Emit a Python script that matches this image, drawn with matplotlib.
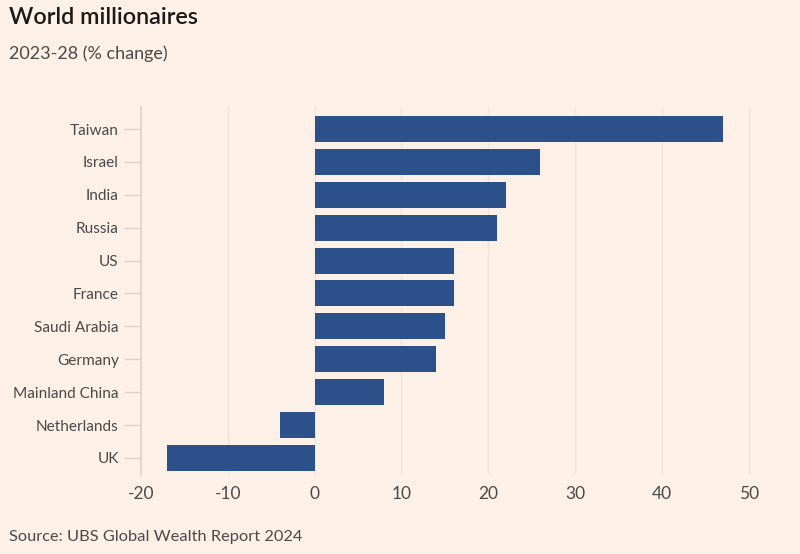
import matplotlib.pyplot as plt

countries = ['Taiwan', 'Israel', 'India', 'Russia', 'US', 'France',
             'Saudi Arabia', 'Germany', 'Mainland China', 'Netherlands', 'UK']
change = [47, 26, 22, 21, 16, 16, 15, 14, 8, -4, -17]
xticks = [-20, -10, 0, 10, 20, 30, 40, 50]

bg = '#fdf0e6'
bar_color = '#2c5089'
grid_color = '#efe3da'
text_color = '#4a4a4a'

plt.rcParams['font.family'] = ['Lato', 'DejaVu Sans']

fig = plt.figure(figsize=(8, 5.54), dpi=100, facecolor=bg)
ax = fig.add_axes([141 / 800, 1 - 475 / 554, (766 - 141) / 800, (475 - 107) / 554])
ax.set_facecolor(bg)

ypos = list(range(len(countries)))
ax.barh(ypos, change, height=0.79, color=bar_color, zorder=3)

ax.set_xlim(-20, 52)
ax.set_ylim(10.52, -0.67)
ax.set_xticks(xticks)
ax.set_xticklabels([str(t) for t in xticks])
ax.set_yticks(ypos)
ax.set_yticklabels(countries)

# Gridlines
for t in xticks[1:]:
    ax.axvline(t, color=grid_color, lw=1, zorder=1)

for s in ['top', 'right', 'bottom']:
    ax.spines[s].set_visible(False)
ax.spines['left'].set_color('#ddd2c9')
ax.spines['left'].set_linewidth(1.2)

ax.tick_params(axis='y', length=12, color='#ddd2c9', width=1, pad=4,
               labelsize=11.1, labelcolor=text_color)
ax.tick_params(axis='x', length=0, pad=8, labelsize=12.5, labelcolor=text_color)

fig.text(0.011, 0.988, 'World millionaires', fontsize=16.8, color='#1a1a1a',
         va='top', ha='left', fontweight='semibold')
fig.text(0.011, 0.918, '2023-28 (% change)', fontsize=13, color=text_color,
         va='top', ha='left')
fig.text(0.011, 0.018, 'Source: UBS Global Wealth Report 2024', fontsize=11.8,
         color=text_color, va='bottom', ha='left')

plt.savefig('out.png', dpi=100, facecolor=bg)
